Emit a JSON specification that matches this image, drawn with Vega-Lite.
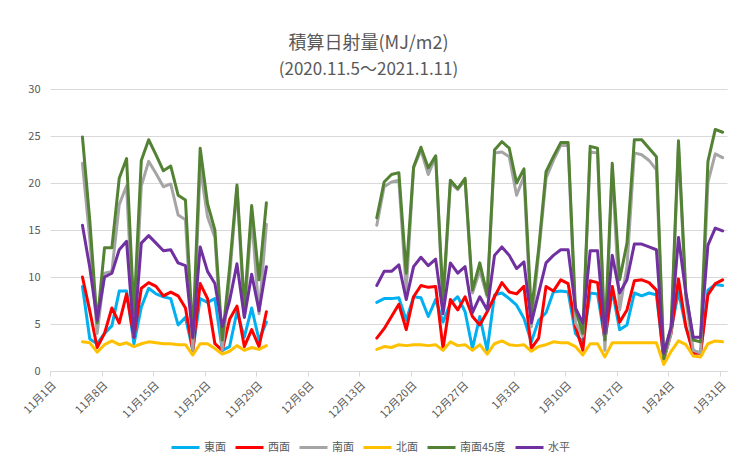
{
  "$schema": "https://vega.github.io/schema/vega-lite/v6.json",
  "width": 677,
  "height": 282,
  "autosize": "none",
  "padding": {"left": 50, "top": 89, "right": 13, "bottom": 87},
  "background": "white",
  "title": {
    "text": "積算日射量(MJ/m2)",
    "subtitle": "(2020.11.5〜2021.1.11)",
    "font": "Noto Sans CJK JP",
    "fontSize": 18,
    "fontWeight": "normal",
    "color": "#595959",
    "subtitleFont": "Noto Sans CJK JP",
    "subtitleFontSize": 17,
    "subtitleColor": "#595959",
    "subtitlePadding": 9,
    "anchor": "middle",
    "dx": -20,
    "offset": 5
  },
  "config": {
    "view": {"stroke": null},
    "font": "Noto Sans CJK JP"
  },
  "data": {
    "values": [
      {"日付": "2020-11-05T00:00", "期間": 1, "東面": 9.0, "西面": 10.0, "南面": 22.1, "北面": 3.1, "南面45度": 24.9, "水平": 15.5},
      {"日付": "2020-11-06T00:00", "期間": 1, "東面": 3.4, "西面": 6.4, "南面": 14.0, "北面": 3.0, "南面45度": 16.0, "水平": 11.0},
      {"日付": "2020-11-07T00:00", "期間": 1, "東面": 2.9, "西面": 2.5, "南面": 4.0, "北面": 2.0, "南面45度": 5.1, "水平": 5.4},
      {"日付": "2020-11-08T00:00", "期間": 1, "東面": 4.0, "西面": 4.0, "南面": 10.4, "北面": 2.8, "南面45度": 13.1, "水平": 10.0},
      {"日付": "2020-11-09T00:00", "期間": 1, "東面": 4.8, "西面": 6.7, "南面": 10.6, "北面": 3.2, "南面45度": 13.1, "水平": 10.4},
      {"日付": "2020-11-10T00:00", "期間": 1, "東面": 8.5, "西面": 5.1, "南面": 17.7, "北面": 2.8, "南面45度": 20.5, "水平": 12.9},
      {"日付": "2020-11-11T00:00", "期間": 1, "東面": 8.5, "西面": 8.2, "南面": 19.7, "北面": 3.0, "南面45度": 22.6, "水平": 13.8},
      {"日付": "2020-11-12T00:00", "期間": 1, "東面": 2.9, "西面": 3.6, "南面": 3.8, "北面": 2.6, "南面45度": 6.1, "水平": 3.6},
      {"日付": "2020-11-13T00:00", "期間": 1, "東面": 6.8, "西面": 8.8, "南面": 19.7, "北面": 2.9, "南面45度": 22.4, "水平": 13.6},
      {"日付": "2020-11-14T00:00", "期間": 1, "東面": 8.8, "西面": 9.4, "南面": 22.3, "北面": 3.1, "南面45度": 24.6, "水平": 14.4},
      {"日付": "2020-11-15T00:00", "期間": 1, "東面": 8.2, "西面": 9.0, "南面": 21.0, "北面": 3.0, "南面45度": 23.0, "水平": 13.6},
      {"日付": "2020-11-16T00:00", "期間": 1, "東面": 7.9, "西面": 8.0, "南面": 19.6, "北面": 2.9, "南面45度": 21.3, "水平": 12.8},
      {"日付": "2020-11-17T00:00", "期間": 1, "東面": 7.7, "西面": 8.4, "南面": 19.9, "北面": 2.9, "南面45度": 21.8, "水平": 12.9},
      {"日付": "2020-11-18T00:00", "期間": 1, "東面": 4.9, "西面": 8.0, "南面": 16.6, "北面": 2.8, "南面45度": 18.7, "水平": 11.5},
      {"日付": "2020-11-19T00:00", "期間": 1, "東面": 5.7, "西面": 6.7, "南面": 16.1, "北面": 2.8, "南面45度": 18.2, "水平": 11.2},
      {"日付": "2020-11-20T00:00", "期間": 1, "東面": 2.2, "西面": 2.2, "南面": 2.2, "北面": 1.7, "南面45度": 3.5, "水平": 3.6},
      {"日付": "2020-11-21T00:00", "期間": 1, "東面": 7.7, "西面": 9.3, "南面": 21.7, "北面": 2.9, "南面45度": 23.7, "水平": 13.2},
      {"日付": "2020-11-22T00:00", "期間": 1, "東面": 7.3, "西面": 7.7, "南面": 16.4, "北面": 2.9, "南面45度": 17.8, "水平": 10.6},
      {"日付": "2020-11-23T00:00", "期間": 1, "東面": 7.7, "西面": 2.9, "南面": 14.2, "北面": 2.4, "南面45度": 15.0, "水平": 9.3},
      {"日付": "2020-11-24T00:00", "期間": 1, "東面": 2.2, "西面": 2.2, "南面": 2.2, "北面": 1.8, "南面45度": 3.3, "水平": 4.7},
      {"日付": "2020-11-25T00:00", "期間": 1, "東面": 2.6, "西面": 5.5, "南面": 10.0, "北面": 2.1, "南面45度": 11.0, "水平": 7.5},
      {"日付": "2020-11-26T00:00", "期間": 1, "東面": 6.3, "西面": 6.9, "南面": 19.5, "北面": 2.7, "南面45度": 19.8, "水平": 11.4},
      {"日付": "2020-11-27T00:00", "期間": 1, "東面": 3.6, "西面": 2.6, "南面": 5.8, "北面": 2.2, "南面45度": 6.8, "水平": 5.7},
      {"日付": "2020-11-28T00:00", "期間": 1, "東面": 6.7, "西面": 4.4, "南面": 16.4, "北面": 2.5, "南面45度": 17.6, "水平": 10.3},
      {"日付": "2020-11-29T00:00", "期間": 1, "東面": 3.3, "西面": 2.6, "南面": 6.1, "北面": 2.3, "南面45度": 9.7, "水平": 6.4},
      {"日付": "2020-11-30T00:00", "期間": 1, "東面": 5.2, "西面": 6.3, "南面": 15.6, "北面": 2.7, "南面45度": 17.9, "水平": 11.1},
      {"日付": "2020-12-15T00:00", "期間": 2, "東面": 7.3, "西面": 3.5, "南面": 15.5, "北面": 2.3, "南面45度": 16.3, "水平": 9.1},
      {"日付": "2020-12-16T00:00", "期間": 2, "東面": 7.7, "西面": 4.5, "南面": 19.6, "北面": 2.6, "南面45度": 20.1, "水平": 10.6},
      {"日付": "2020-12-17T00:00", "期間": 2, "東面": 7.7, "西面": 5.8, "南面": 20.1, "北面": 2.5, "南面45度": 20.9, "水平": 10.6},
      {"日付": "2020-12-18T00:00", "期間": 2, "東面": 7.8, "西面": 7.1, "南面": 20.3, "北面": 2.8, "南面45度": 21.1, "水平": 11.3},
      {"日付": "2020-12-19T00:00", "期間": 2, "東面": 5.4, "西面": 4.4, "南面": 8.6, "北面": 2.7, "南面45度": 10.4, "水平": 7.6},
      {"日付": "2020-12-20T00:00", "期間": 2, "東面": 7.9, "西面": 7.9, "南面": 21.6, "北面": 2.8, "南面45度": 21.7, "水平": 11.1},
      {"日付": "2020-12-21T00:00", "期間": 2, "東面": 7.8, "西面": 9.1, "南面": 23.5, "北面": 2.8, "南面45度": 23.8, "水平": 12.1},
      {"日付": "2020-12-22T00:00", "期間": 2, "東面": 5.8, "西面": 8.9, "南面": 20.9, "北面": 2.7, "南面45度": 21.6, "水平": 11.2},
      {"日付": "2020-12-23T00:00", "期間": 2, "東面": 7.6, "西面": 9.0, "南面": 22.8, "北面": 2.8, "南面45度": 22.9, "水平": 11.9},
      {"日付": "2020-12-24T00:00", "期間": 2, "東面": 5.2, "西面": 2.4, "南面": 7.0, "北面": 2.2, "南面45度": 7.6, "水平": 6.1},
      {"日付": "2020-12-25T00:00", "期間": 2, "東面": 7.2, "西面": 7.6, "南面": 20.0, "北面": 3.1, "南面45度": 20.3, "水平": 11.5},
      {"日付": "2020-12-26T00:00", "期間": 2, "東面": 7.9, "西面": 6.5, "南面": 19.3, "北面": 2.7, "南面45度": 19.4, "水平": 10.4},
      {"日付": "2020-12-27T00:00", "期間": 2, "東面": 6.3, "西面": 7.9, "南面": 20.3, "北面": 2.8, "南面45度": 20.5, "水平": 11.1},
      {"日付": "2020-12-28T00:00", "期間": 2, "東面": 2.4, "西面": 5.8, "南面": 8.3, "北面": 2.2, "南面45度": 8.6, "水平": 6.2},
      {"日付": "2020-12-29T00:00", "期間": 2, "東面": 5.8, "西面": 4.9, "南面": 10.7, "北面": 2.8, "南面45度": 11.5, "水平": 7.9},
      {"日付": "2020-12-30T00:00", "期間": 2, "東面": 2.2, "西面": 6.3, "南面": 7.9, "北面": 1.8, "南面45度": 8.1, "水平": 6.5},
      {"日付": "2020-12-31T00:00", "期間": 2, "東面": 8.1, "西面": 7.9, "南面": 23.2, "北面": 2.9, "南面45度": 23.5, "水平": 12.3},
      {"日付": "2021-01-01T00:00", "期間": 2, "東面": 8.3, "西面": 9.4, "南面": 23.3, "北面": 3.2, "南面45度": 24.4, "水平": 13.2},
      {"日付": "2021-01-02T00:00", "期間": 2, "東面": 7.7, "西面": 8.4, "南面": 22.8, "北面": 2.8, "南面45度": 23.7, "水平": 12.3},
      {"日付": "2021-01-03T00:00", "期間": 2, "東面": 7.0, "西面": 8.2, "南面": 18.7, "北面": 2.7, "南面45度": 20.0, "水平": 10.9},
      {"日付": "2021-01-04T00:00", "期間": 2, "東面": 5.6, "西面": 9.0, "南面": 20.7, "北面": 2.8, "南面45度": 21.5, "水平": 11.6},
      {"日付": "2021-01-05T00:00", "期間": 2, "東面": 3.1, "西面": 2.4, "南面": 4.7, "北面": 2.1, "南面45度": 6.2, "水平": 5.1},
      {"日付": "2021-01-06T00:00", "期間": 2, "東面": 5.4, "西面": 3.5, "南面": 12.5, "北面": 2.6, "南面45度": 13.0, "水平": 8.3},
      {"日付": "2021-01-07T00:00", "期間": 2, "東面": 6.2, "西面": 9.0, "南面": 20.5, "北面": 2.8, "南面45度": 21.2, "水平": 11.5},
      {"日付": "2021-01-08T00:00", "期間": 2, "東面": 8.4, "西面": 8.5, "南面": 22.4, "北面": 3.1, "南面45度": 22.8, "水平": 12.3},
      {"日付": "2021-01-09T00:00", "期間": 2, "東面": 8.5, "西面": 9.7, "南面": 24.0, "北面": 3.0, "南面45度": 24.3, "水平": 12.9},
      {"日付": "2021-01-10T00:00", "期間": 2, "東面": 8.4, "西面": 9.3, "南面": 24.0, "北面": 3.0, "南面45度": 24.3, "水平": 12.9},
      {"日付": "2021-01-11T00:00", "期間": 2, "東面": 4.0, "西面": 4.7, "南面": 5.1, "北面": 2.6, "南面45度": 6.5, "水平": 6.7},
      {"日付": "2021-01-12T00:00", "期間": 2, "東面": 3.1, "西面": 2.2, "南面": 3.7, "北面": 1.7, "南面45度": 4.0, "水平": 5.1},
      {"日付": "2021-01-13T00:00", "期間": 2, "東面": 8.3, "西面": 9.6, "南面": 23.3, "北面": 2.9, "南面45度": 23.9, "水平": 12.8},
      {"日付": "2021-01-14T00:00", "期間": 2, "東面": 8.2, "西面": 9.4, "南面": 23.2, "北面": 2.9, "南面45度": 23.7, "水平": 12.8},
      {"日付": "2021-01-15T00:00", "期間": 2, "東面": 3.3, "西面": 3.3, "南面": 2.2, "北面": 1.5, "南面45度": 3.3, "水平": 4.0},
      {"日付": "2021-01-16T00:00", "期間": 2, "東面": 8.6, "西面": 9.0, "南面": 21.6, "北面": 3.0, "南面45度": 22.1, "水平": 12.3},
      {"日付": "2021-01-17T00:00", "期間": 2, "東面": 4.4, "西面": 5.2, "南面": 6.5, "北面": 3.0, "南面45度": 9.7, "水平": 8.3},
      {"日付": "2021-01-18T00:00", "期間": 2, "東面": 4.9, "西面": 6.5, "南面": 11.1, "北面": 3.0, "南面45度": 13.6, "水平": 9.7},
      {"日付": "2021-01-19T00:00", "期間": 2, "東面": 8.3, "西面": 9.6, "南面": 23.2, "北面": 3.0, "南面45度": 24.6, "水平": 13.5},
      {"日付": "2021-01-20T00:00", "期間": 2, "東面": 8.0, "西面": 9.7, "南面": 23.0, "北面": 3.0, "南面45度": 24.6, "水平": 13.5},
      {"日付": "2021-01-21T00:00", "期間": 2, "東面": 8.3, "西面": 9.4, "南面": 22.4, "北面": 3.0, "南面45度": 23.7, "水平": 13.2},
      {"日付": "2021-01-22T00:00", "期間": 2, "東面": 8.1, "西面": 8.6, "南面": 21.4, "北面": 3.0, "南面45度": 22.8, "水平": 12.9},
      {"日付": "2021-01-23T00:00", "期間": 2, "東面": 1.3, "西面": 1.2, "南面": 1.2, "北面": 0.7, "南面45度": 1.3, "水平": 1.9},
      {"日付": "2021-01-24T00:00", "期間": 2, "東面": 4.4, "西面": 4.0, "南面": 4.0, "北面": 2.1, "南面45度": 4.7, "水平": 4.7},
      {"日付": "2021-01-25T00:00", "期間": 2, "東面": 8.4, "西面": 9.8, "南面": 23.9, "北面": 3.2, "南面45度": 24.5, "水平": 14.2},
      {"日付": "2021-01-26T00:00", "期間": 2, "東面": 4.7, "西面": 4.7, "南面": 7.6, "北面": 2.8, "南面45度": 8.3, "水平": 8.3},
      {"日付": "2021-01-27T00:00", "期間": 2, "東面": 2.2, "西面": 1.9, "南面": 2.2, "北面": 1.6, "南面45度": 3.3, "水平": 3.6},
      {"日付": "2021-01-28T00:00", "期間": 2, "東面": 1.9, "西面": 1.9, "南面": 1.9, "北面": 1.5, "南面45度": 3.1, "水平": 3.6},
      {"日付": "2021-01-29T00:00", "期間": 2, "東面": 8.6, "西面": 8.1, "南面": 20.1, "北面": 2.9, "南面45度": 22.3, "水平": 13.4},
      {"日付": "2021-01-30T00:00", "期間": 2, "東面": 9.2, "西面": 9.3, "南面": 23.1, "北面": 3.2, "南面45度": 25.7, "水平": 15.2},
      {"日付": "2021-01-31T00:00", "期間": 2, "東面": 9.1, "西面": 9.7, "南面": 22.7, "北面": 3.1, "南面45度": 25.4, "水平": 14.9}
    ]
  },
  "transform": [
    {"fold": ["東面", "西面", "南面", "北面", "南面45度", "水平"], "as": ["系列", "値"]}
  ],
  "mark": {"type": "line", "strokeWidth": 3, "strokeJoin": "round", "strokeCap": "round", "xOffset": 3},
  "encoding": {
    "x": {
      "field": "日付",
      "type": "temporal",
      "scale": {"domain": [{"year": 2020, "month": 11, "date": 1}, {"year": 2021, "month": 2, "date": 1}]},
      "axis": {
        "title": null,
        "format": "%-m月%-d日",
        "values": [
          {"year": 2020, "month": 11, "date": 1},
          {"year": 2020, "month": 11, "date": 8},
          {"year": 2020, "month": 11, "date": 15},
          {"year": 2020, "month": 11, "date": 22},
          {"year": 2020, "month": 11, "date": 29},
          {"year": 2020, "month": 12, "date": 6},
          {"year": 2020, "month": 12, "date": 13},
          {"year": 2020, "month": 12, "date": 20},
          {"year": 2020, "month": 12, "date": 27},
          {"year": 2021, "month": 1, "date": 3},
          {"year": 2021, "month": 1, "date": 10},
          {"year": 2021, "month": 1, "date": 17},
          {"year": 2021, "month": 1, "date": 24},
          {"year": 2021, "month": 1, "date": 31}
        ],
        "labelAngle": -45,
        "labelFontSize": 11,
        "labelColor": "#595959",
        "labelPadding": 3,
        "domainColor": "#d9d9d9",
        "tickColor": "#d9d9d9",
        "tickSize": 5,
        "grid": false,
        "labelFlush": false,
        "labelOverlap": false
      }
    },
    "y": {
      "field": "値",
      "type": "quantitative",
      "scale": {"domain": [0, 30], "nice": false},
      "axis": {
        "title": null,
        "values": [0, 5, 10, 15, 20, 25, 30],
        "domain": false,
        "ticks": false,
        "gridColor": "#d9d9d9",
        "labelColor": "#595959",
        "labelFontSize": 11,
        "labelPadding": 10
      }
    },
    "color": {
      "field": "系列",
      "type": "nominal",
      "scale": {
        "domain": ["東面", "西面", "南面", "北面", "南面45度", "水平"],
        "range": ["#00B0F0", "#FF0000", "#A5A5A5", "#FFC000", "#548235", "#7030A0"]
      },
      "legend": {
        "title": null,
        "orient": "none",
        "legendX": 120,
        "legendY": 343,
        "direction": "horizontal",
        "gridAlign": "none",
        "symbolType": "stroke",
        "symbolStrokeWidth": 3,
        "symbolSize": 784,
        "labelFontSize": 11,
        "labelColor": "#595959",
        "labelOffset": 3,
        "columnPadding": 3
      }
    },
    "detail": {"field": "期間", "type": "nominal"}
  }
}
